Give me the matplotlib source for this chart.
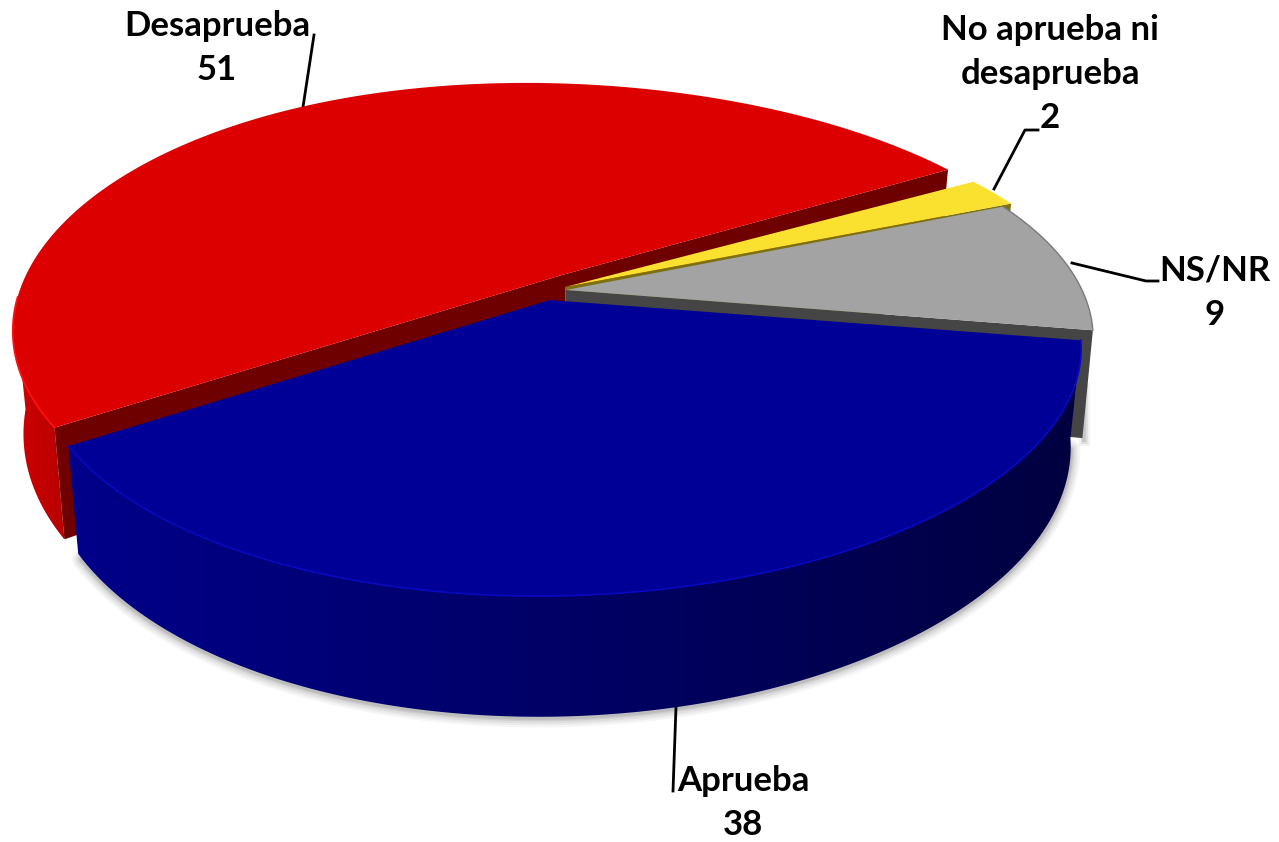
import numpy as np
import matplotlib
matplotlib.use('Agg')
import matplotlib.pyplot as plt
from matplotlib.colors import to_rgb
from matplotlib.patches import Polygon

categories = ['No aprueba ni\ndesaprueba', 'NS/NR', 'Aprueba', 'Desaprueba']
values = [2, 9, 38, 51]
top_colors = ['#fbe12f', '#a3a3a3', '#000096', '#dc0000']
wall_colors = ['#7c7010', '#454545', '#00006a', '#6e0000']

START_ANGLE = 30.0
R_X = 518.0
R_Y = 233.0
PERSP = 0.213
LEAN = 20.0
DEPTH = 95.0
SHRINK = 0.98


def project(cx, cy, t, rx=R_X):
    a = np.radians(t)
    x, y = np.cos(a), np.sin(a)
    den = 1 + PERSP * y
    return cx + rx * x / den - LEAN * y**2, cy - R_Y * y / den


def lower(cx, cy, t, rx=R_X, depth=DEPTH):
    # same rim but at the bottom of the disc
    a = np.radians(t)
    den = 1 + PERSP * np.sin(a)
    px, py = project(cx, cy, t, rx)
    return cx + (px - cx) * SHRINK, py + depth / den


def side(ax, cx, cy, t0, t1, c0, c1, rx=R_X, depth=DEPTH):
    # gradient image clipped to the outer face of the slice
    ts = np.linspace(t0, t1, 300)
    xa, ya = project(cx, cy, ts, rx)
    xb, yb = lower(cx, cy, ts, rx, depth)
    xs = np.r_[xa, xb[::-1]]
    ys = np.r_[ya, yb[::-1]]
    c0, c1 = np.array(to_rgb(c0)), np.array(to_rgb(c1))
    f = np.linspace(0, 1, 400)[None, :, None]
    img = c0 + (c1 - c0) * f
    im = ax.imshow(img, extent=[xs.min(), xs.max(), ys.max(), ys.min()], aspect='auto', zorder=1)
    clip = Polygon(np.c_[xs, ys], closed=True, transform=ax.transData)
    im.set_clip_path(clip)
    ax.set_xlim(0, 1279)
    ax.set_ylim(842, 0)
    return im


def wall(ax, cx, cy, apex, t, color, rx=R_X, depth=DEPTH, z=2):
    xa, ya = project(cx, cy, t, rx)
    xb, yb = lower(cx, cy, t, rx, depth)
    ax.fill([apex[0], xa, xb, apex[0]], [apex[1], ya, yb, apex[1] + depth * 0.95], color=color, lw=0, zorder=z)


def top(ax, cx, cy, apex, t0, t1, color, rx=R_X, z=2):
    ts = np.linspace(t0, t1, 200)
    xs, ys = project(cx, cy, ts, rx)
    ax.fill(np.r_[apex[0], xs], np.r_[apex[1], ys], color=color, lw=0, zorder=z)
    return xs, ys


# angles come from the values, going clockwise from the red/yellow cut
cuts = START_ANGLE - np.cumsum([0] + values) * 3.6
t_y = cuts[0], cuts[1]
t_g = cuts[1], cuts[2]
t_b = cuts[2], cuts[3]
t_r = cuts[3] + 360, cuts[4] + 360

fig = plt.figure(figsize=(12.79, 8.42), dpi=100)
ax = fig.add_axes([0, 0, 1, 1])
ax.set_xlim(0, 1279)
ax.set_ylim(842, 0)
ax.axis('off')

blue_c = (558, 300)
blue_apex = (550, 300)
gray_c = (570, 290)
gray_apex = (566, 290)
yellow_c = (573, 287)
yellow_apex = (565, 287)
red_c = (546, 275)
red_apex = (562, 275)
RED_CORNER = 1.5

# red slice
red_end = t_r[0] + RED_CORNER
side(ax, red_c[0], red_c[1], 188, red_end, '#d00000', '#b80000', rx=520, depth=98).set_zorder(1)
wall(ax, red_c[0], red_c[1], red_apex, red_end, wall_colors[3], rx=520, depth=98)
wall(ax, red_c[0], red_c[1], red_apex, t_r[1], wall_colors[3], rx=520)
rx_, ry_ = top(ax, red_c[0], red_c[1], red_apex, red_end, t_r[1], top_colors[3], rx=520)
keep = np.linspace(red_end, t_r[1], 200) > 185
ax.plot(rx_[keep], ry_[keep], color='#ff1010', lw=1.3, zorder=2)

# yellow slice
wall(ax, yellow_c[0], yellow_c[1], yellow_apex, t_y[1], wall_colors[0], z=3)
top(ax, yellow_c[0], yellow_c[1], yellow_apex, t_y[0], t_y[1], top_colors[0], z=3)

# gray slice
wall(ax, gray_c[0], gray_c[1], gray_apex, t_g[1], wall_colors[1], rx=512, depth=104, z=4)
gxs, gys = top(ax, gray_c[0], gray_c[1], gray_apex, t_g[0], t_g[1], top_colors[1], rx=512, z=4)
ax.plot(gxs, gys, color='#7a7a7a', lw=1, zorder=4)

# soft shadow under the blue slice and the gray wall
ts = np.linspace(t_b[0] - 2, t_b[1] + 1, 200)
sx, sy = lower(blue_c[0], blue_c[1], ts, rx=512)
for lw, al in zip([14, 11, 8, 5, 3], [0.05, 0.07, 0.09, 0.12, 0.15]):
    ax.plot(sx, sy + 1, color='#606060', lw=lw, alpha=al, solid_capstyle='round', zorder=0.5)
gx, gy = lower(gray_c[0], gray_c[1], t_g[1], rx=512, depth=104)
for lw, al in zip([8, 5, 3], [0.08, 0.12, 0.18]):
    ax.plot([gx + 2, gx + 2], [gy - 50, gy + 2], color='#606060', lw=lw, alpha=al, zorder=0.5)

# blue slice, exploded towards the viewer
side(ax, blue_c[0], blue_c[1], t_b[1], t_b[0], '#00008a', '#000040', rx=512).set_zorder(5)
bxs, bys = top(ax, blue_c[0], blue_c[1], blue_apex, t_b[0], t_b[1], top_colors[2], rx=512, z=6)
ax.plot(bxs, bys, color='#0808c0', lw=1.2, zorder=6)

# leader lines
ax.plot([303, 314], [107, 35], color='black', lw=2, zorder=0.6)
ax.plot([994, 1025, 1038], [189, 130, 130], color='black', lw=2, zorder=0.6)
ax.plot([1072, 1146, 1158], [263, 281, 281], color='black', lw=2, zorder=0.6)
ax.plot([676, 673], [707, 791], color='black', lw=2, zorder=0.6)

# labels
label_pos = [(1050, 74), (1215, 293), (743, 803), (217, 48)]
for cat, val, pos in zip(categories, values, label_pos):
    ax.text(pos[0], pos[1], cat + '\n' + str(val), ha='center', va='center', multialignment='center',
            fontsize=25, fontweight='bold', family='Lato', linespacing=1.48, color='black', zorder=7)

fig.savefig('out.png', dpi=100)
